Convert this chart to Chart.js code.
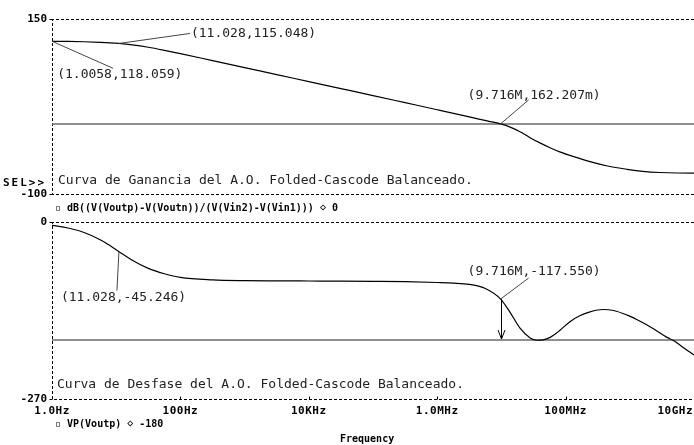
<!DOCTYPE html>
<html lang="es">
<head>
<meta charset="UTF-8">
<title>Curvas de Ganancia y Desfase - Folded-Cascode</title>
<script src="https://cdn.jsdelivr.net/npm/chart.js"></script>
<style>
    body { margin: 0; background: #fff; }
    #bode { display: block; }
</style>
</head>
<body>
<canvas id="bode" width="694" height="445"></canvas>

<script>
    // Ganancia diferencial (dB) frente a frecuencia (Hz)
    const gainFreq = [1, 1.778, 3.162, 5.623, 8, 11.028, 17.78, 31.62, 56.23, 100, 316.2, 1e3, 3162, 1e4, 3.162e4, 1e5,
        3.162e5, 1e6, 3.162e6, 6e6, 9.716e6, 1.4e7, 1.95e7, 2.8e7, 3.98e7, 5.6e7, 8.1e7, 1.3e8, 2.4e8, 4.5e8, 9.1e8,
        1.6e9, 2.95e9, 5.5e9, 1e10];
    const gainDb = [118.06, 117.9, 117.5, 116.7, 116.0, 115.048, 113.0, 109.6, 105.3, 100.6, 90.6, 80.6, 70.6, 60.6, 50.6, 40.6,
        30.5, 20.4, 10.2, 4.4, 0.162, -4.8, -11.0, -19.5, -27.0, -33.5, -39.8, -46.3, -53.8, -60.0, -64.7,
        -67.6, -69.3, -70.0, -70.1];

    // Fase de la salida (grados)
    const phaseFreq = [1, 1.778, 3.162, 5.623, 8, 11.028, 17.78, 31.62, 56.23, 100, 316.2, 1e3, 3162, 1e4, 3.162e4, 1e5,
        3.162e5, 1e6, 1.778e6, 3.162e6, 5.623e6, 9.716e6, 1.35e7, 1.95e7, 2.8e7, 3.55e7, 4.47e7, 5.75e7, 7e7, 8.1e7, 1.17e8,
        1.66e8, 2.4e8, 3.8e8, 5.6e8, 9.1e8, 1.3e9, 1.86e9, 2.6e9, 3.8e9, 4.7e9, 6.3e9, 1e10];
    const phaseDeg = [-5.2, -9.2, -16.0, -27.0, -36.0, -45.246, -58.3, -70.8, -78.9, -84.5, -88.3, -89.5, -89.8, -90.0, -90.2, -90.5,
        -91.0, -92.3, -93.2, -95.2, -101.5, -117.55, -137.0, -162.0, -177.0, -180.4, -179.8, -176.0, -170.5, -165.5, -152.0,
        -143.0, -137.0, -133.5, -135.0, -142.0, -149.0, -157.0, -166.0, -176.0, -180.5, -189.0, -203.0];

    const xTicks = [1, 100, 1e4, 1e6, 1e8, 1e10];
    const xTickLabels = ['1.0Hz', '100Hz', '10KHz', '1.0MHz', '100MHz', '10GHz'];
    const gainRange = [-100, 150];
    const phaseRange = [-270, 0];
    const gainRef = 0;
    const phaseRef = -180;

    // cursores [frecuencia, valor]
    const gainCursors = [[1.0058, 118.059], [11.028, 115.048], [9.716e6, 0.162207]];
    const gainCursorLabels = ['(1.0058,118.059)', '(11.028,115.048)', '(9.716M,162.207m)'];
    const phaseCursors = [[11.028, -45.246], [9.716e6, -117.550]];
    const phaseCursorLabels = ['(11.028,-45.246)', '(9.716M,-117.550)'];

    const toXY = (fs, vs) => fs.map((f, i) => ({x: f, y: vs[i]}));

    const BOLD = 'bold 11px "DejaVu Sans Mono", monospace';
    const BOLD_S = 'bold 10px "DejaVu Sans Mono", monospace';
    const THIN = '13px "DejaVu Sans Mono", monospace';

    // desplazamientos (px) de la linea y el texto de cada cursor
    const gainLabelPos = [[61, 27, 5, 33], [71, -10, 72, -10], [28, -24, -33, -28]];
    const phaseLabelPos = [[-2, 39, -58, 46], [28, -21, -33, -27]];

    const plotFrame = {
        id: 'plotFrame',
        beforeDatasetsDraw(chart) {
            const {ctx, chartArea: a, scales: {x, yG, yP}} = chart;
            const L = a.left + 0.5;
            ctx.save();
            ctx.strokeStyle = '#000';
            ctx.lineWidth = 1;
            ctx.setLineDash([3, 2]);
            [[yG, gainRange], [yP, phaseRange]].forEach(([s, r]) => {
                const top = Math.round(s.getPixelForValue(r[1])) + 0.5;
                const bot = Math.round(s.getPixelForValue(r[0])) + 0.5;
                ctx.beginPath();
                ctx.moveTo(a.right, top);
                ctx.lineTo(L, top);
                ctx.lineTo(L, bot);
                ctx.lineTo(a.right, bot);
                ctx.stroke();
            });
            ctx.setLineDash([]);
            ctx.beginPath();
            [[yG, gainRange], [yP, phaseRange]].forEach(([s, r]) => {
                r.forEach(v => {
                    const y = Math.round(s.getPixelForValue(v)) + 0.5;
                    ctx.moveTo(L - 3, y);
                    ctx.lineTo(L, y);
                });
            });
            const yb = Math.round(yP.getPixelForValue(phaseRange[0])) + 0.5;
            xTicks.slice(1, -1).forEach(f => {
                const px = Math.round(x.getPixelForValue(f)) + 0.5;
                ctx.moveTo(px, yb);
                ctx.lineTo(px, yb - 3);
            });
            ctx.stroke();
            ctx.restore();
        },
        afterDatasetsDraw(chart) {
            const {ctx, chartArea: a, scales: {x, yG, yP}} = chart;
            ctx.save();
            ctx.fillStyle = '#000';
            ctx.textBaseline = 'middle';

            // etiquetas de los ejes
            ctx.font = BOLD;
            ctx.textAlign = 'right';
            gainRange.forEach(v => ctx.fillText(String(v), a.left - 5, yG.getPixelForValue(v)));
            phaseRange.forEach(v => ctx.fillText(String(v), a.left - 5, yP.getPixelForValue(v)));
            ctx.textAlign = 'left';
            ctx.letterSpacing = '2px';
            ctx.fillText('SEL>>', 3, yG.getPixelForValue(gainRange[0]) - 11);
            ctx.letterSpacing = '0.5px';

            const yLab = yP.getPixelForValue(phaseRange[0]) + 12;
            xTicks.forEach((f, i) => {
                const px = x.getPixelForValue(f);
                if (i === xTicks.length - 1) {
                    ctx.textAlign = 'right';
                    ctx.fillText(xTickLabels[i], px - 1, yLab);
                } else {
                    ctx.textAlign = 'center';
                    ctx.fillText(xTickLabels[i], px, yLab);
                }
            });
            ctx.letterSpacing = '0px';

            ctx.font = BOLD_S;
            ctx.textAlign = 'left';
            ctx.fillText('\u25AB dB((V(Voutp)-V(Voutn))/(V(Vin2)-V(Vin1))) \u22C4 ' + gainRef, a.left + 3, yG.getPixelForValue(gainRange[0]) + 14);
            ctx.fillText('\u25AB VP(Voutp) \u22C4 ' + phaseRef, a.left + 3, yLab + 13);
            ctx.fillText('Frequency', 340, yLab + 28);

            // titulos de las curvas
            ctx.font = THIN;
            ctx.fillStyle = '#222';
            ctx.fillText('Curva de Ganancia del A.O. Folded-Cascode Balanceado.', a.left + 6, yG.getPixelForValue(gainRange[0]) - 13);
            ctx.fillText('Curva de Desfase del A.O. Folded-Cascode Balanceado.', a.left + 5, yP.getPixelForValue(phaseRange[0]) - 14);

            // cursores
            ctx.strokeStyle = '#444';
            ctx.lineWidth = 1;
            const drawCursor = (scale, c, label, pos) => {
                const px = x.getPixelForValue(c[0]);
                const py = scale.getPixelForValue(c[1]);
                ctx.beginPath();
                ctx.moveTo(px, py);
                ctx.lineTo(px + pos[0], py + pos[1]);
                ctx.stroke();
                ctx.fillText(label, px + pos[2], py + pos[3]);
            };
            gainCursors.forEach((c, i) => drawCursor(yG, c, gainCursorLabels[i], gainLabelPos[i]));
            phaseCursors.forEach((c, i) => drawCursor(yP, c, phaseCursorLabels[i], phaseLabelPos[i]));

            // flecha hasta -180
            const c = phaseCursors[1];
            const ax = Math.round(x.getPixelForValue(c[0])) + 0.5;
            const ay0 = yP.getPixelForValue(c[1]);
            const ay1 = yP.getPixelForValue(phaseRef) - 1;
            ctx.strokeStyle = '#000';
            ctx.beginPath();
            ctx.moveTo(ax, ay0);
            ctx.lineTo(ax, ay1);
            ctx.moveTo(ax - 3.5, ay1 - 9);
            ctx.lineTo(ax, ay1);
            ctx.lineTo(ax + 3.5, ay1 - 9);
            ctx.stroke();
            ctx.restore();
        }
    };

    new Chart(document.getElementById('bode'), {
        type: 'line',
        data: {
            datasets: [
                {data: toXY(gainFreq, gainDb), yAxisID: 'yG', borderColor: '#000', borderWidth: 1.2, order: 0},
                {data: toXY([1, 1e10], [gainRef, gainRef]), yAxisID: 'yG', borderColor: '#6a6a6a', borderWidth: 1.6, order: 1},
                {data: toXY(phaseFreq, phaseDeg), yAxisID: 'yP', borderColor: '#000', borderWidth: 1.2, order: 0},
                {data: toXY([1, 1e10], [phaseRef, phaseRef]), yAxisID: 'yP', borderColor: '#6a6a6a', borderWidth: 1.6, order: 1}
            ]
        },
        options: {
            responsive: false,
            animation: false,
            devicePixelRatio: 1,
            layout: {padding: {left: 52, right: 0, top: 19, bottom: 46}},
            elements: {
                point: {radius: 0},
                line: {cubicInterpolationMode: 'monotone', fill: false}
            },
            plugins: {legend: {display: false}, tooltip: {enabled: false}},
            scales: {
                x: {type: 'logarithmic', min: 1, max: 1e10, display: false},
                // cada grafica ocupa su franja del area comun
                yG: {type: 'linear', min: -392.857, max: 150, display: false},
                yP: {type: 'linear', min: -270, max: 309.66, display: false}
            }
        },
        plugins: [plotFrame]
    });
</script>
</body>
</html>
